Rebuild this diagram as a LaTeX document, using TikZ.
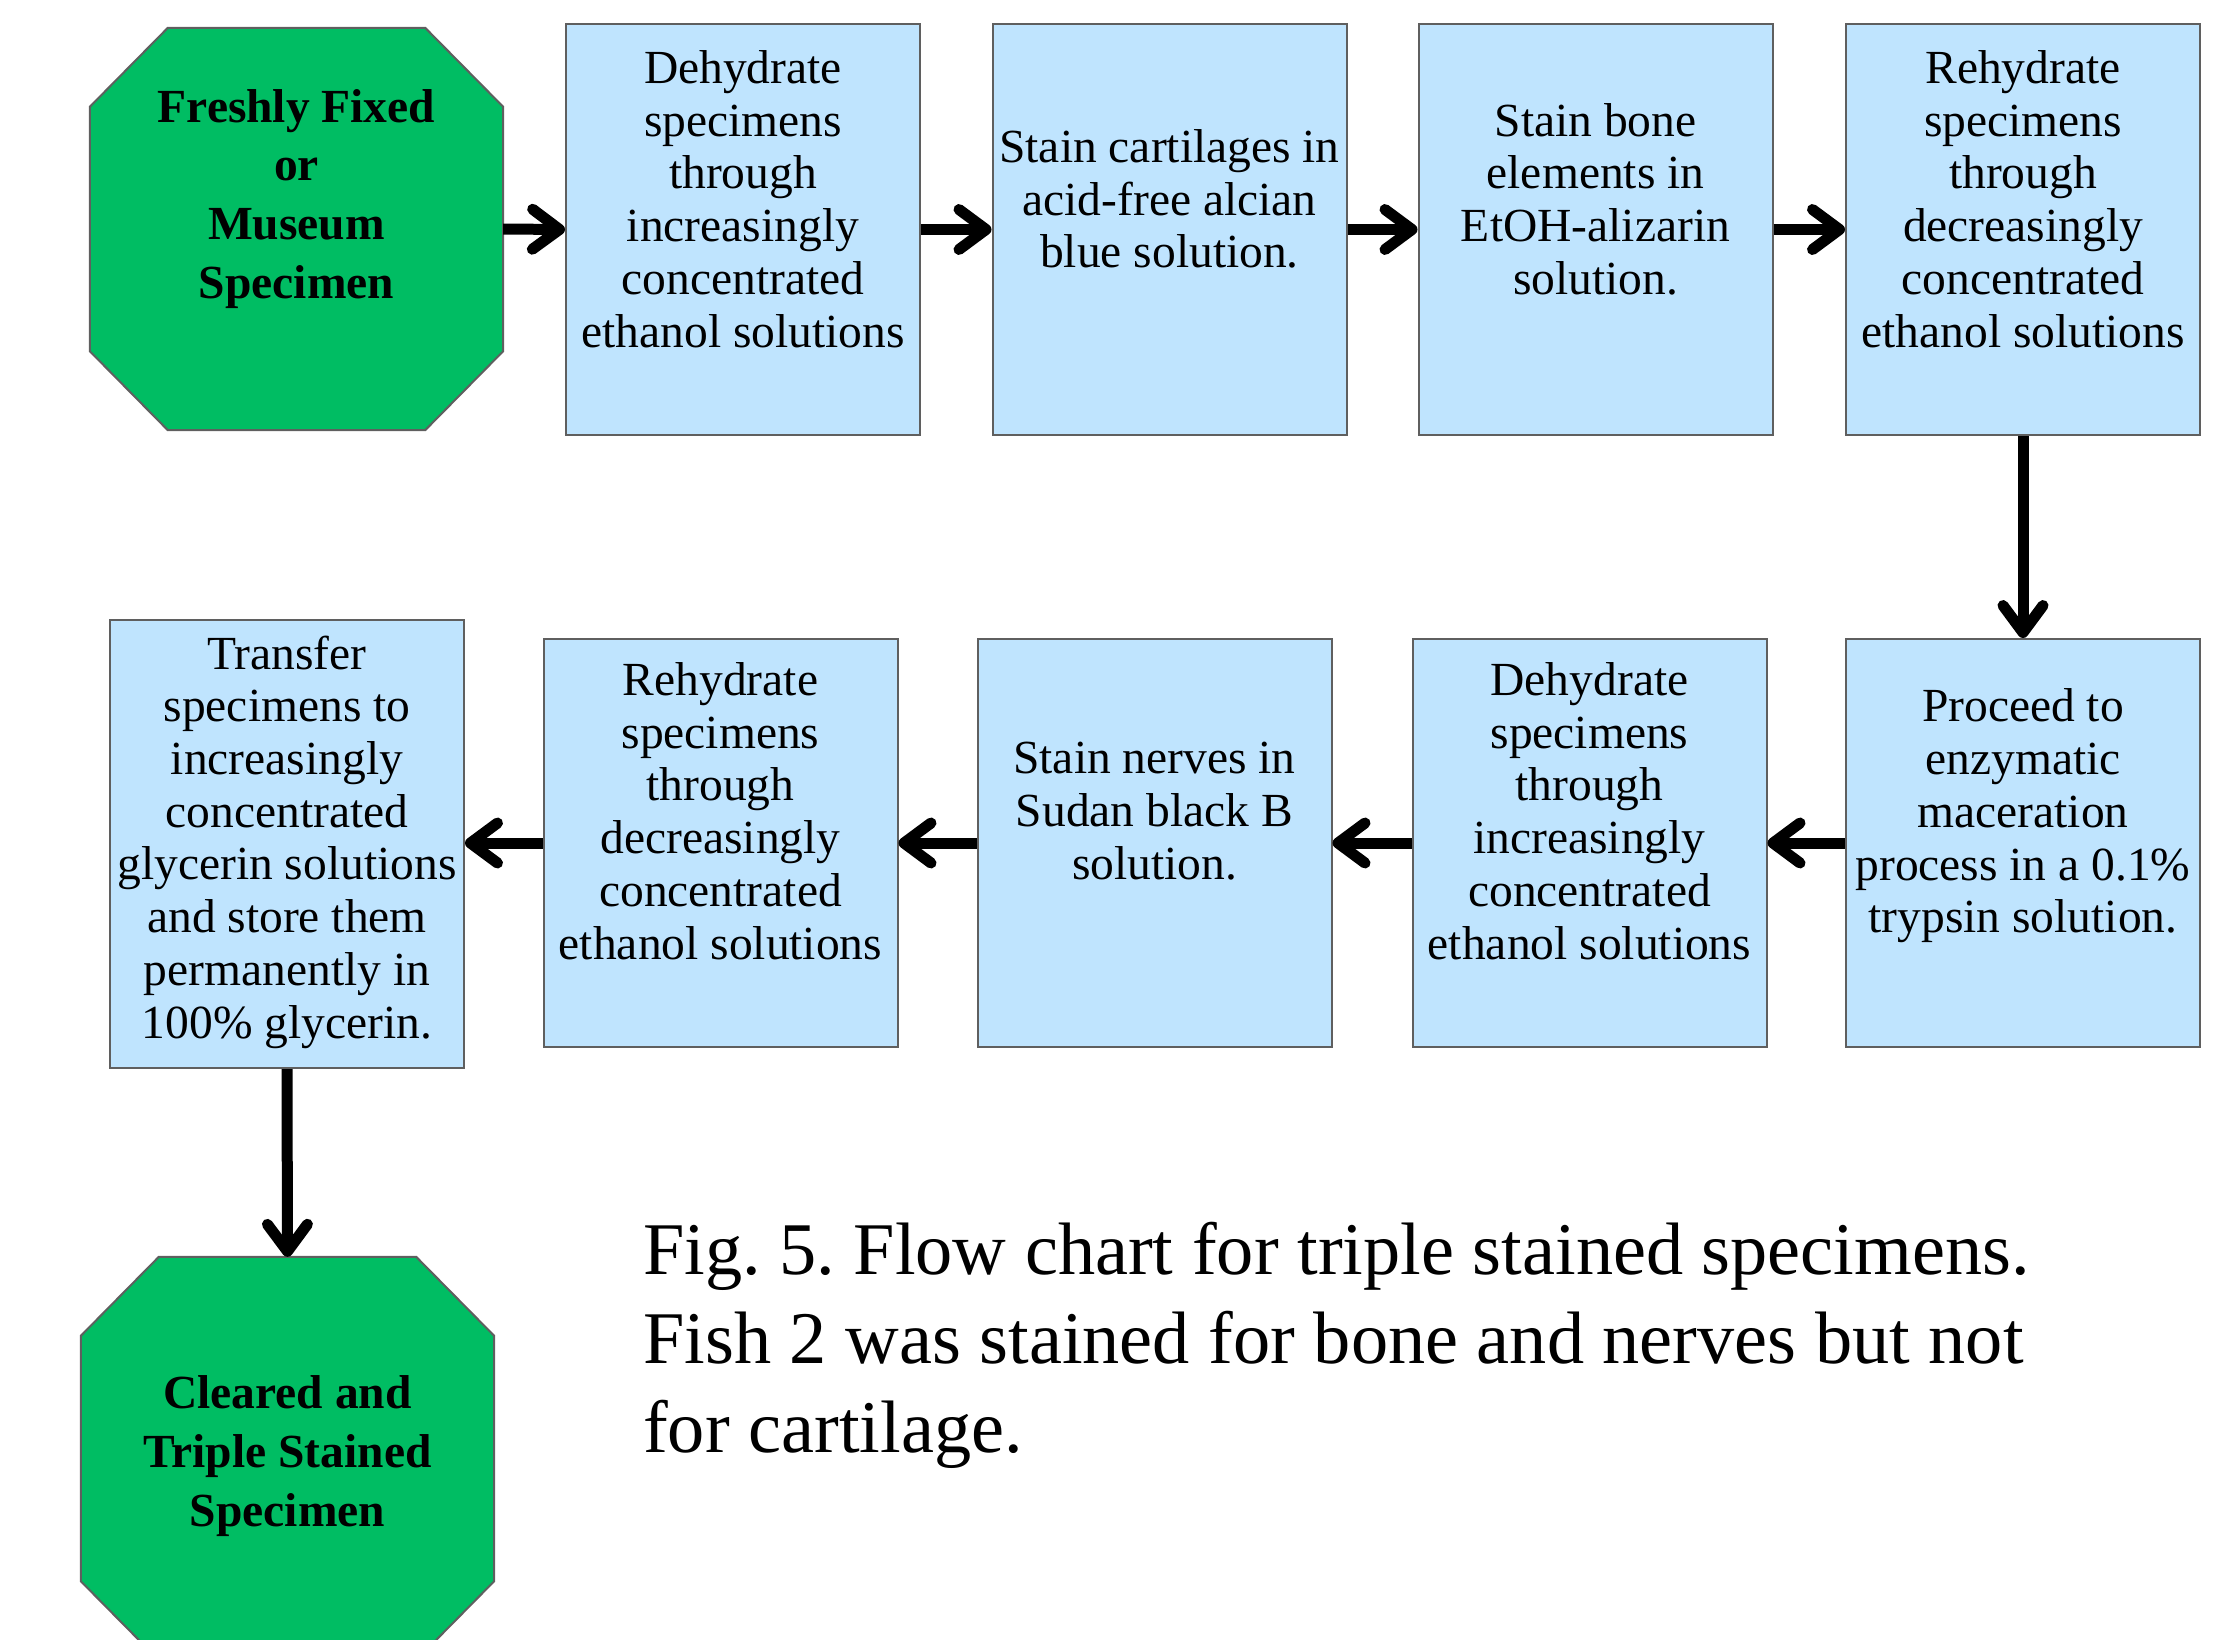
\documentclass[tikz,border=0pt]{standalone}
\usepackage{fontspec}
\setmainfont{Liberation Serif}
\usetikzlibrary{arrows.meta}
\frenchspacing
\definecolor{boxblue}{RGB}{191,228,254}
\definecolor{octgreen}{RGB}{0,189,99}
\definecolor{edgegray}{RGB}{95,95,95}
\tikzset{
  stepbox/.style={draw=edgegray,line width=2pt,fill=boxblue,minimum width=354pt,minimum height=408pt,inner sep=0pt},
  steptext/.style={align=center,inner sep=0pt,font=\fontsize{47.5}{52.7}\selectfont},
  octframe/.style={draw=none,inner sep=0pt,minimum width=413pt,minimum height=402pt},
  octline/.style={draw=edgegray,line width=2pt,fill=octgreen},
  octtext/.style={align=center,inner sep=0pt,font=\bfseries\fontsize{47.5}{58.9}\selectfont},
  flow/.style={line width=11pt,-{Straight Barb[length=27pt,width=40pt,round]}},
}
\newcommand\drawoct[1]{%
  \draw[octline] ([xshift=78pt]#1.north west) -- ([xshift=-78pt]#1.north east)
    -- ([yshift=-79pt]#1.north east) -- ([yshift=79pt]#1.south east)
    -- ([xshift=-78pt]#1.south east) -- ([xshift=78pt]#1.south west)
    -- ([yshift=79pt]#1.south west) -- ([yshift=-79pt]#1.north west) -- cycle;}
\begin{document}
\begin{tikzpicture}[x=1pt,y=-1pt]
\path[use as bounding box,clip] (0,0) rectangle (2234,1639);
% start octagon
\node[octframe] (oct1) at (296.5,229) {};
\drawoct{oct1}
\node[octtext] (oct1t) at (296.5,199) {Freshly Fixed\\or\\Museum\\Specimen};
% top row
\node[stepbox,minimum height=411pt] (b1) at (743,229.5) {};
\node[stepbox,minimum height=411pt] (b2) at (1169.5,229.5) {};
\node[stepbox,minimum height=411pt] (b3) at (1595.5,229.5) {};
\node[stepbox,minimum height=411pt] (b4) at (2023,229.5) {};
\node[steptext] (b1t) at (743,199) {Dehydrate\\specimens\\through\\increasingly\\concentrated\\ethanol solutions};
\node[steptext] (b2t) at (1169.5,199) {Stain cartilages in\\acid-free alcian\\blue solution.};
\node[steptext] (b3t) at (1595.5,199) {Stain bone\\elements in\\EtOH-alizarin\\solution.};
\node[steptext] (b4t) at (2023,199) {Rehydrate\\specimens\\through\\decreasingly\\concentrated\\ethanol solutions};
% second row
\node[stepbox] (p5) at (2023,843) {};
\node[stepbox] (d6) at (1589.5,843) {};
\node[stepbox] (s7) at (1154.5,843) {};
\node[stepbox] (r8) at (720.5,843) {};
\node[stepbox,minimum height=448pt] (t9) at (287,844) {};
\node[steptext] (p5t) at (2023,816) {Proceed to\\enzymatic\\maceration\\process in a 0.1\%\\trypsin solution.};
\node[steptext] (d6t) at (1589.5,811) {Dehydrate\\specimens\\through\\increasingly\\concentrated\\ethanol solutions};
\node[steptext] (s7t) at (1154.5,811) {Stain nerves in\\Sudan black B\\solution.};
\node[steptext] (r8t) at (720.5,811) {Rehydrate\\specimens\\through\\decreasingly\\concentrated\\ethanol solutions};
\node[steptext] (t9t) at (287,842) {Transfer\\specimens to\\increasingly\\concentrated\\glycerin solutions\\and store them\\permanently in\\100\% glycerin.};
% end octagon
\node[octframe,minimum height=403pt] (oct2) at (287.5,1458.5) {};
\drawoct{oct2}
\node[octtext] (oct2t) at (287.5,1456) {Cleared and\\Triple Stained\\Specimen};
% caption
\node[anchor=base west,align=left,inner sep=0pt,font=\fontsize{74.3}{89}\selectfont] (cap) at (643,1452)
  {Fig. 5. Flow chart for triple stained specimens.\\Fish 2 was stained for bone and nerves but not\\for cartilage.};
% connectors
\draw[flow] (oct1.east) -- (b1.west);
\draw[flow] (b1.east) -- (b2.west);
\draw[flow] (b2.east) -- (b3.west);
\draw[flow] (b3.east) -- (b4.west);
\draw[flow] (b4.south) -- (p5.north);
\draw[flow] (p5.west) -- (d6.east);
\draw[flow] (d6.west) -- (s7.east);
\draw[flow] (s7.west) -- (r8.east);
\draw[flow] (r8.west) -- (r8.west -| t9.east);
\draw[flow] (t9.south) -- (oct2.north);
\end{tikzpicture}
\end{document}
